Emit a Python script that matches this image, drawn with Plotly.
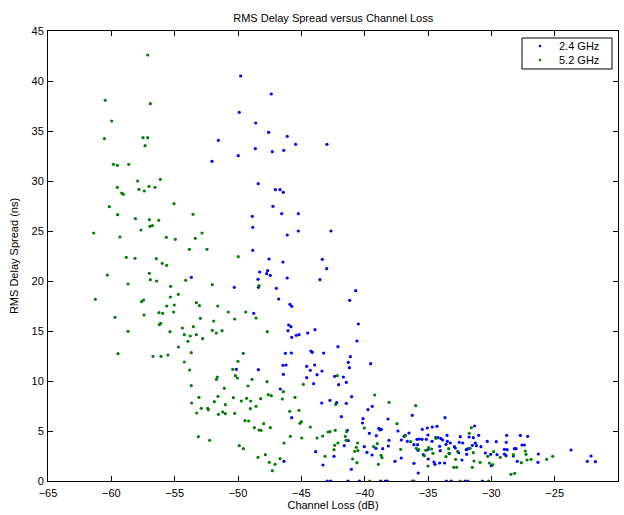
import plotly.graph_objects as go

# 2.4 GHz points (channel loss dB, RMS delay spread ns), grouped by region
b_top = [(-49.79,40.5),(-49.9,36.87),(-48.6,35.8),(-51.55,34.07),(-48.63,33.23),(-49.98,32.53),(-52.05,31.97),
         (-47.37,38.7),(-47.58,34.87),(-46.11,34.47),(-45.45,33.67),(-42.98,33.67),(-47.29,32.93),(-46.39,33.07)]
b_mid = [(-48.4,29.73),(-48.87,26.47),(-48.84,25.37),(-48.84,23.07),(-48.29,20.9),(-48.42,20.17),(-48.39,19.37),
         (-50.29,19.37),(-53.68,20.37),(-48.76,16.77),
         (-47.05,29.13),(-46.68,29.13),(-46.42,28.87),(-47.24,27.47),(-46.55,26.73),(-45.24,26.73),(-45.24,25.0),
         (-42.66,25.0),(-46.11,24.6),(-47.55,22.2),(-46.45,21.9),(-43.34,22.17),(-43.0,21.23),(-47.66,21.03),
         (-47.74,20.73),(-47.45,20.57),(-46.11,20.3),(-43.53,20.13),(-46.97,19.27),(-40.71,19.03),(-46.79,18.2),
         (-41.18,18.07),(-45.9,17.67),(-45.76,17.47),(-46.0,15.6),(-45.82,15.43),(-40.5,15.7),(-43.92,15.13),(-46.05,15.03)]
b_low = [(-50.13,11.17),(-48.39,11.13),
         (-45.76,14.37),(-45.4,14.57),(-45.18,14.63),(-44.5,14.8),(-40.61,14.0),(-42.11,13.43),(-46.26,12.77),
         (-45.79,12.8),(-44.24,13.0),(-44.13,12.87),(-43.24,12.8),(-41.13,12.43),(-41.29,11.87),(-39.53,11.73),
         (-46.45,11.57),(-46.21,11.6),(-44.58,11.47),(-43.95,11.6),(-41.21,11.33),(-43.37,11.0),(-44.29,11.07),
         (-46.42,10.67),(-43.76,10.63),(-44.58,10.33),(-42.37,10.47),(-41.68,10.4),(-41.45,9.87),(-44.03,9.73),
         (-42.05,9.63),(-46.66,9.2),(-41.03,8.43),(-42.74,8.07),(-43.39,7.8),(-42.21,7.83),(-41.45,7.77),
         (-39.4,7.47),(-39.74,7.13),(-41.84,6.43),(-45.76,6.33),(-40.13,6.23),(-38.16,6.2),(-40.18,5.8),
         (-36.24,6.57),(-37.37,5.0),(-38.89,5.27),(-38.68,5.17),(-38.79,5.1),(-39.63,4.77),(-41.37,5.07),
         (-41.29,4.03),(-41.61,3.53),(-39.08,4.53),(-38.08,4.07),(-38.13,3.5),(-37.11,4.1),(-36.89,4.47),
         (-36.79,4.57),(-36.5,4.8),(-36.63,3.97),(-35.87,4.17),(-35.69,4.2),(-35.47,4.17),(-35.13,4.17),
         (-35.45,5.17),(-35.05,5.3),(-34.66,5.4),(-34.29,5.47),(-34.39,4.33),(-34.2,4.33),(-33.97,4.23),
         (-35.0,4.6),(-34.68,3.97),(-36.11,3.63),(-35.82,3.63),(-34.08,3.47),(-35.0,3.13),(-34.03,3.03),
         (-35.79,3.07),(-35.37,2.63),(-34.98,2.2),(-34.53,1.9),(-34.45,1.67),(-34.08,1.8),(-36.11,1.77),
         (-35.77,0.8),(-37.61,1.97),(-37.11,2.3),(-39.11,3.27),(-39.42,2.6),(-39.82,2.87),(-38.58,3.23),
         (-40.03,3.43),(-41.05,1.17),(-42.42,2.47),(-43.87,2.93),(-43.29,1.6),(-46.37,1.97),
         (-42.95,0),(-42.68,0),(-41.32,0),(-40.42,0),(-38.74,0),(-38.37,0),(-38.21,0),(-36.12,0)]
b_right = [(-33.66,6.33),(-33.5,4.57),(-31.32,5.5),(-33.84,4.1),(-33.58,3.67),(-33.47,3.97),(-33.24,3.8),
           (-32.53,3.87),(-32.26,3.8),(-32.45,4.43),(-31.76,4.4),(-31.42,4.33),(-31.0,4.57),(-31.26,3.8),
           (-31.18,3.53),(-31.5,3.57),(-30.82,3.43),(-30.32,3.97),(-29.61,3.93),(-28.79,4.57),(-28.82,3.87),
           (-27.71,4.57),(-27.13,4.47),(-27.58,3.6),(-27.39,3.6),(-32.92,3.43),(-32.84,3.3),(-32.58,2.83),
           (-31.98,3.13),(-31.82,3.23),(-31.95,2.67),(-32.32,2.1),(-33.69,1.8),(-33.34,2.77),(-30.47,2.8),
           (-30.05,2.67),(-29.55,2.63),(-30.0,1.53),(-28.97,3.17),(-28.76,3.13),(-28.84,2.53),(-28.97,2.7),
           (-28.26,2.5),(-28.18,3.23),(-28.05,3.23),(-27.95,1.97),(-26.29,2.7),(-26.32,1.87),(-23.71,3.1),
           (-22.42,1.97),(-22.13,2.5),(-21.79,1.93),
           (-33.55,0),(-33.16,0),(-32.08,0),(-31.84,0),(-30.71,0)]

# 5.2 GHz points
g_top = [(-57.13,42.6),(-60.48,38.07),(-56.92,37.73),(-59.97,36.0),(-60.55,34.23),(-57.5,34.33),(-57.13,34.33),
         (-57.34,33.53),(-59.84,31.67),(-59.53,31.57),(-58.63,31.67),(-56.13,30.17),(-57.92,30.0)]
g_mid = [(-59.53,29.37),(-57.82,29.17),(-57.03,29.47),(-56.55,29.37),(-57.4,29.0),(-59.18,28.8),(-59.05,28.67),
         (-55.05,27.73),(-60.16,27.43),(-59.5,26.63),(-53.55,26.67),(-58.1,26.23),(-57.0,26.13),(-56.26,26.07),
         (-56.76,25.53),(-56.95,25.47),(-57.66,25.1),(-61.39,24.8),(-52.84,24.8),(-59.32,24.4),(-55.66,24.37),
         (-54.95,24.17),(-53.37,24.27),(-53.84,23.17),(-52.45,23.17),(-49.98,22.43),(-58.82,22.37),(-58.13,22.27),
         (-56.45,22.23),(-55.98,21.77),(-55.63,21.57),(-60.32,20.6),(-57.0,20.77),(-56.92,20.13),(-56.42,20.0),
         (-54.13,20.07),(-58.68,19.7),(-52.03,19.63),(-55.32,19.47),(-48.34,19.53),(-54.71,18.67),(-55.34,18.4),
         (-61.26,18.17),(-57.45,18.1),(-57.61,17.93),(-53.29,17.83),(-53.05,17.53),(-55.03,17.6),(-55.63,17.5),
         (-51.6,17.5),(-50.76,16.9),(-49.39,16.9),(-56.24,16.83),(-55.95,16.77),(-55.08,16.9),(-57.42,16.6),
         (-59.71,16.37),(-52.97,16.27),(-50.26,16.2),(-48.58,16.3),(-51.92,16.0),(-56.1,15.77),(-56.21,15.63),
         (-54.39,15.3),(-53.53,15.43),(-52.03,15.07),(-51.26,15.03),(-58.68,14.97),(-55.37,14.93)]
g_low = [(-54.24,14.63),(-53.77,14.5),(-53.29,14.63),(-51.71,14.8),(-52.79,14.23),(-53.95,13.97),(-54.71,13.4),
         (-59.47,12.73),(-56.71,12.47),(-56.08,12.47),(-55.53,12.6),(-53.69,12.83),(-49.58,12.77),(-50.0,11.97),
         (-54.24,11.9),(-53.82,11.1),(-50.42,11.17),(-50.21,10.53),(-50.05,10.3),(-51.63,10.4),(-51.71,10.17),
         (-48.89,10.17),(-53.69,9.53),(-49.21,9.5),(-51.08,9.27),(-53.08,8.37),(-51.58,8.47),(-50.37,8.33),
         (-49.32,8.27),(-48.21,8.23),(-49.74,8.0),(-49.0,8.0),(-51.87,7.93),(-53.66,7.8),(-51.0,7.63),
         (-48.58,7.47),(-52.9,7.27),(-52.39,7.27),(-52.34,7.13),(-49.03,7.23),(-53.26,6.8),(-51.55,6.67),
         (-51.21,6.9),(-51.0,6.73),(-50.26,6.77),(-49.45,6.03),(-49.16,6.0),(-48.71,5.33),(-48.34,5.1),
         (-48.18,5.07),(-53.13,4.43),(-52.24,4.07),(-49.9,3.53),(-49.58,3.23),(-48.42,2.37)]
g_center = [(-47.69,14.93),(-47.71,9.93),(-44.84,9.67),(-46.42,8.93),(-47.61,8.63),(-47.37,8.53),(-46.5,8.2),
            (-45.5,8.37),(-39.21,8.6),(-38.08,7.87),(-42.29,7.67),(-42.16,10.53),(-45.18,7.07),(-45.92,6.97),
            (-35.97,7.53),(-45.0,5.93),(-45.11,5.77),(-47.97,5.73),(-44.29,5.4),(-47.45,5.33),(-37.45,5.73),
            (-40.03,5.3),(-42.32,5.07),(-42.89,4.9),(-42.74,4.93),(-43.32,4.5),(-43.76,4.3),(-45.87,4.47),
            (-44.97,4.3),(-41.53,4.47),(-41.42,4.93),(-41.47,4.07),(-42.11,3.8),(-40.55,3.8),(-39.0,3.73),
            (-46.37,3.8),(-42.37,3.57),(-40.66,3.37),(-39.29,3.43),(-42.42,3.13),(-40.79,2.97),(-40.53,3.03),
            (-37.16,3.17),(-38.71,2.57),(-38.63,2.33),(-43.13,2.47),(-47.84,2.63),(-46.68,2.23),(-40.95,2.2),
            (-40.61,1.83),(-47.53,1.87),(-47.08,1.67),(-38.92,1.67),(-47.29,1.03),(-36.37,3.93),(-36.82,4.53),
            (-35.92,3.27),(-35.74,3.13),(-35.18,3.07),(-35.29,2.53),(-34.61,2.77),(-35.0,1.5),(-34.37,4.27),
            (-34.95,3.33),(-34.71,3.2),(-39.6,0),(-36.24,0)]
g_right = [(-31.58,5.33),(-31.74,4.77),(-33.37,3.23),(-33.29,2.73),(-33.58,2.43),(-32.66,2.97),(-32.82,2.17),
           (-32.97,1.37),(-32.74,1.37),(-31.5,1.37),(-31.68,3.27),(-31.37,2.0),(-31.42,2.83),(-30.89,1.87),
           (-30.29,2.47),(-29.82,2.93),(-30.16,1.8),(-29.89,1.63),(-29.29,2.37),(-28.26,2.63),(-27.63,1.83),
           (-27.32,3.0),(-27.26,2.67),(-27.18,2.1),(-26.87,2.17),(-25.63,2.17),(-25.16,2.47),(-28.45,0.67),
           (-28.16,0.77),(-32.45,0),(-30.21,0)]

x_ticks = [-65, -60, -55, -50, -45, -40, -35, -30, -25, -20]
y_ticks = [0, 5, 10, 15, 20, 25, 30, 35, 40, 45]
series_names = ["2.4 GHz", "5.2 GHz"]
series_colors = ["#0000ff", "#008000"]

pts24 = b_top + b_mid + b_low + b_right
pts52 = g_top + g_mid + g_low + g_center + g_right

FONT = "Liberation Sans, Arial, Helvetica, sans-serif"

fig = go.Figure()
for pts, name, col in zip([pts24, pts52], series_names, series_colors):
    fig.add_trace(go.Scatter(x=[p[0] for p in pts], y=[p[1] for p in pts], mode="markers",
                             name=name, showlegend=False,
                             marker=dict(color=col, size=3.2, line=dict(width=0))))

axis_common = dict(showline=True, linecolor="black", linewidth=1, mirror="ticks", ticks="inside",
                   ticklen=5, tickcolor="black", showgrid=False, zeroline=False,
                   tickfont=dict(family=FONT, size=11, color="black"))

# custom compact legend (MATLAB style box)
shapes = [dict(type="rect", xref="paper", yref="paper", x0=0.8316, x1=0.9895, y0=0.9156, y1=0.9844,
               line=dict(color="black", width=1), fillcolor="white", layer="above")]
annotations = []
for i, (name, col) in enumerate(zip(series_names, series_colors)):
    yc = 0.9667 - i * 0.0311
    shapes.append(dict(type="circle", xref="paper", yref="paper", xsizemode="pixel", ysizemode="pixel",
                       xanchor=0.8632, yanchor=yc, x0=-1.3, x1=1.3, y0=-1.3, y1=1.3,
                       fillcolor=col, line=dict(width=0), layer="above"))
    annotations.append(dict(text=name, xref="paper", yref="paper", x=0.8930, y=yc, xanchor="left",
                            yanchor="middle", showarrow=False, font=dict(family=FONT, size=11, color="black")))

fig.update_layout(
    width=624, height=515,
    margin=dict(l=48, r=6, t=31, b=34),
    paper_bgcolor="white", plot_bgcolor="white",
    font=dict(family=FONT, size=11, color="black"),
    title=dict(text="RMS Delay Spread versus Channel Loss", x=0.534, xanchor="center",
               y=1 - 18 / 515, yanchor="middle", font=dict(family=FONT, size=11, color="black")),
    xaxis=dict(range=[-65, -20], tickvals=x_ticks, ticklabelstandoff=2,
               title=dict(text="Channel Loss (dB)", standoff=0, font=dict(family=FONT, size=11)),
               **axis_common),
    yaxis=dict(range=[0, 45], tickvals=y_ticks, ticklabelstandoff=1,
               title=dict(text="RMS Delay Spread (ns)", standoff=10, font=dict(family=FONT, size=11)),
               **axis_common),
    shapes=shapes,
    annotations=annotations,
    showlegend=False,
)

fig.write_html("out.html")
